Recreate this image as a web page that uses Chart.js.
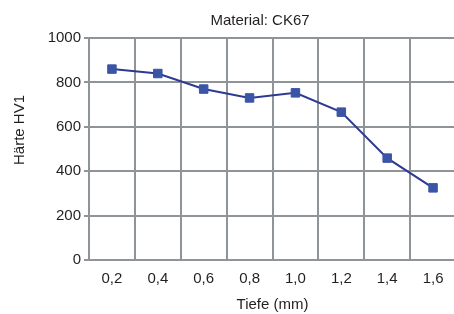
<!DOCTYPE html>
<html>
<head>
<meta charset="utf-8">
<script src="https://cdn.jsdelivr.net/npm/chart.js@4.4.1/dist/chart.umd.min.js"></script>
<style>
html,body{margin:0;padding:0;background:#fff;overflow:hidden;width:454px;height:314px;}
#wrap{position:absolute;left:0;top:0;width:463px;height:314px;}
</style>
</head>
<body>
<div id="wrap"><canvas id="c" width="463" height="314"></canvas></div>
<script>
const categories = ['0,2', '0,4', '0,6', '0,8', '1,0', '1,2', '1,4', '1,6'];
const hardness = [860, 840, 770, 730, 753, 666, 459, 325];
const yTicks = [0, 200, 400, 600, 800, 1000];
const chartTitle = 'Material: CK67';
const xTitle = 'Tiefe (mm)';
const yTitle = 'Härte HV1';

const FONT = '"Liberation Sans", Arial, sans-serif';
const TEXT = '#231f20';
const GRID = '#8f9499';

const labelsPlugin = {
  id: 'customLabels',
  afterDraw(chart) {
    const ctx = chart.ctx;
    ctx.save();
    ctx.fillStyle = TEXT;
    ctx.font = '15px ' + FONT;
    ctx.textAlign = 'center';
    ctx.textBaseline = 'alphabetic';
    ctx.fillText(chartTitle, 260, 25);
    ctx.translate(24, 130);
    ctx.rotate(-Math.PI / 2);
    ctx.fillText(yTitle, 0, 0);
    ctx.restore();
  }
};

Chart.defaults.font.family = FONT;
Chart.defaults.font.size = 15;
Chart.defaults.color = TEXT;

new Chart(document.getElementById('c'), {
  type: 'line',
  data: {
    labels: categories,
    datasets: [{
      data: hardness,
      borderColor: '#2e3a92',
      borderWidth: 2,
      pointStyle: 'rect',
      pointRadius: 6,
      pointBorderWidth: 1,
      pointBackgroundColor: '#3a55a5',
      pointBorderColor: '#3a55a5',
      tension: 0,
      fill: false
    }]
  },
  options: {
    responsive: false,
    animation: false,
    devicePixelRatio: 1,
    layout: { padding: { top: 38, right: 1.5, left: 0, bottom: 0 } },
    plugins: {
      legend: { display: false },
      title: { display: false },
      tooltip: { enabled: false }
    },
    scales: {
      x: {
        type: 'category',
        offset: true,
        grid: { offset: true, color: GRID, lineWidth: 2, drawTicks: false },
        border: { color: GRID, width: 2 },
        ticks: { padding: 10, font: { size: 15 }, color: TEXT, maxRotation: 0 },
        title: { display: true, text: xTitle, font: { size: 15 }, color: TEXT, padding: { top: 4, bottom: 0 } },
        afterFit(s) { s.height = 54; }
      },
      y: {
        min: 0, max: 1000,
        afterBuildTicks(s) { s.ticks = yTicks.map(v => ({ value: v })); },
        grid: { color: GRID, lineWidth: 2, drawTicks: true, tickLength: 5 },
        border: { color: GRID, width: 2 },
        ticks: { padding: 3, font: { size: 15 }, color: TEXT, callback: v => String(v) },
        afterFit(s) { s.width = 89; }
      }
    }
  },
  plugins: [labelsPlugin]
});
</script>
</body>
</html>
